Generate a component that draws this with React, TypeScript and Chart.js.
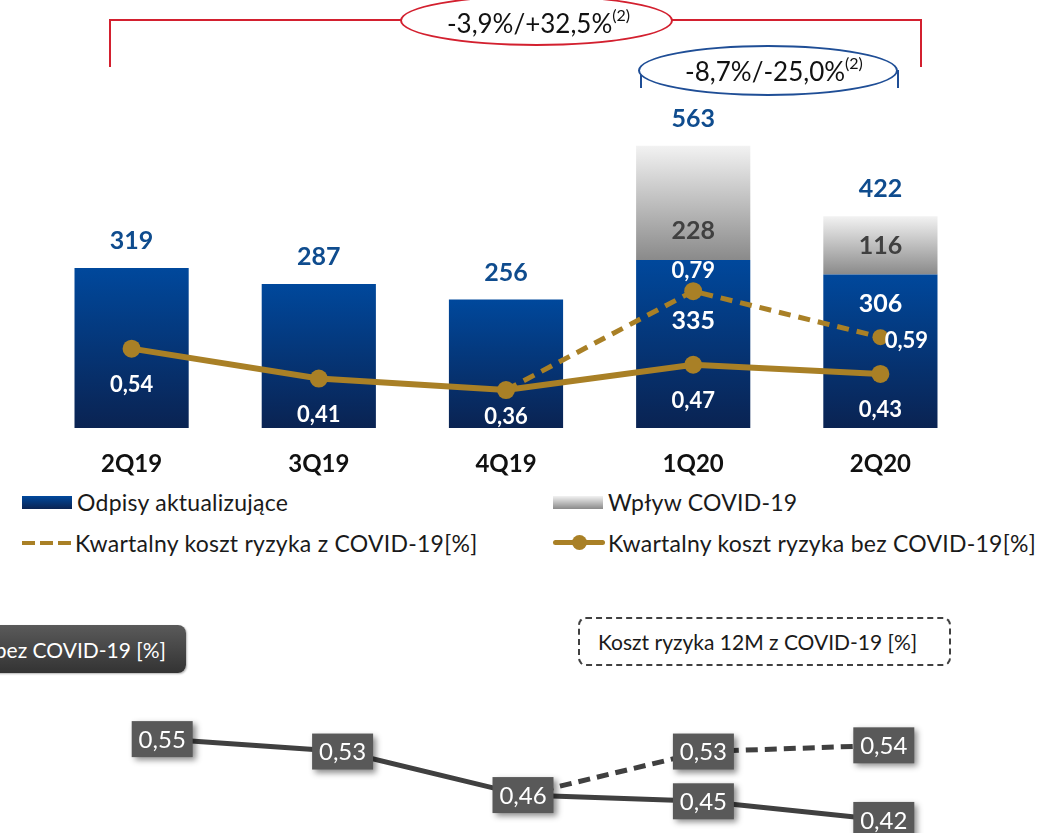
import React, { useEffect, useRef } from 'react';
import { Chart, registerables } from 'chart.js';
Chart.register(...registerables);

const categories = ['2Q19', '3Q19', '4Q19', '1Q20', '2Q20'];
const writeDowns = [319, 287, 256, 335, 306];
const covidImpact = [null, null, null, 228, 116];
const costWithCovid = [null, null, 0.36, 0.79, 0.59];
const costWithoutCovid = [0.54, 0.41, 0.36, 0.47, 0.43];
const cost12mWithout = [0.55, 0.53, 0.46, 0.45, 0.42];
const cost12mWith = [null, null, 0.46, 0.53, 0.54];

const GOLD = '#a98026';
const NAVY_TOP = '#00489c';
const NAVY_BOT = '#0a2352';
const BLUE_TXT = '#0f4c8e';
const RED = '#d3202f';
const FONT = 'Lato, "Open Sans", sans-serif';

const fmt = (v: number) => v.toFixed(2).replace('.', ',');

const topLabels = {
  id: 'topLabels',
  afterDatasetsDraw(chart: any) {
    const { ctx, scales } = chart;
    const x = scales.x, y = scales.y, y2 = scales.y2;
    ctx.save();
    ctx.textAlign = 'center';
    ctx.textBaseline = 'middle';
    categories.forEach((c, i) => {
      const px = x.getPixelForValue(i);
      const blue = writeDowns[i];
      const cov = covidImpact[i];
      const total = blue + (cov || 0);
      ctx.font = `bold 25px ${FONT}`;
      ctx.fillStyle = BLUE_TXT;
      ctx.fillText(String(total), px, y.getPixelForValue(total) - 27);
      if (cov) {
        const blueTop = y.getPixelForValue(blue);
        ctx.fillStyle = '#404040';
        ctx.fillText(String(cov), px, blueTop - 29);
        ctx.fillStyle = '#ffffff';
        ctx.fillText(String(blue), px, blueTop + (i === 3 ? 61 : 29));
      }
      ctx.font = `bold 24px ${FONT}`;
      ctx.fillStyle = '#111111';
      ctx.fillText(c, px, y.getPixelForValue(0) + 36);
      ctx.font = `bold 22px ${FONT}`;
      ctx.fillStyle = '#ffffff';
      const r = costWithoutCovid[i];
      ctx.fillText(fmt(r), px, y2.getPixelForValue(r) + (i === 2 ? 27 : 36));
      const rc = costWithCovid[i];
      if (rc != null && i > 2) {
        if (i === 3) ctx.fillText(fmt(rc), px, y2.getPixelForValue(rc) - 20);
        else ctx.fillText(fmt(rc), px + 26, y2.getPixelForValue(rc) + 4);
      }
    });
    ctx.restore();
  },
};

const boxLabels = {
  id: 'boxLabels',
  afterDatasetsDraw(chart: any) {
    const { ctx, scales } = chart;
    const x = scales.x, y = scales.y;
    ctx.save();
    const draw = (v: number, i: number) => {
      const px = x.getPixelForValue(i);
      const py = y.getPixelForValue(v);
      ctx.shadowColor = 'rgba(0,0,0,0.45)';
      ctx.shadowBlur = 6;
      ctx.shadowOffsetX = 3;
      ctx.shadowOffsetY = 3;
      ctx.fillStyle = '#595959';
      ctx.fillRect(px - 30.5, py - 18, 61, 36);
      ctx.shadowColor = 'transparent';
      ctx.fillStyle = '#ffffff';
      ctx.font = `24px ${FONT}`;
      ctx.textAlign = 'center';
      ctx.textBaseline = 'middle';
      ctx.fillText(fmt(v), px, py + 1);
    };
    cost12mWithout.forEach((v, i) => draw(v, i));
    cost12mWith.forEach((v, i) => {
      if (v != null && i > 2) draw(v, i);
    });
    ctx.restore();
  },
};

function blueGrad(c: any) {
  const { chart } = c;
  if (!chart.chartArea || c.dataIndex === undefined) return NAVY_TOP;
  const y = chart.scales.y;
  const g = chart.ctx.createLinearGradient(0, y.getPixelForValue(writeDowns[c.dataIndex]), 0, y.getPixelForValue(0));
  g.addColorStop(0, NAVY_TOP);
  g.addColorStop(1, NAVY_BOT);
  return g;
}

function grayGrad(c: any) {
  const { chart } = c;
  if (!chart.chartArea || c.dataIndex === undefined) return '#cccccc';
  const y = chart.scales.y;
  const i = c.dataIndex;
  const g = chart.ctx.createLinearGradient(0, y.getPixelForValue(writeDowns[i] + (covidImpact[i] || 0)), 0, y.getPixelForValue(writeDowns[i]));
  g.addColorStop(0, '#f2f2f2');
  g.addColorStop(1, '#8a8a8a');
  return g;
}

export default function App() {
  const topRef = useRef<HTMLCanvasElement>(null);
  const botRef = useRef<HTMLCanvasElement>(null);

  useEffect(() => {
    const c1 = new Chart(topRef.current!, {
      type: 'bar',
      data: {
        labels: categories,
        datasets: [
          {
            type: 'line', label: 'Kwartalny koszt ryzyka bez COVID-19[%]', data: costWithoutCovid, yAxisID: 'y2',
            borderColor: GOLD, backgroundColor: GOLD, borderWidth: 6, pointRadius: 9, pointBorderWidth: 0,
            pointBackgroundColor: GOLD, order: 0, tension: 0,
          } as any,
          {
            type: 'line', label: 'Kwartalny koszt ryzyka z COVID-19[%]', data: costWithCovid, yAxisID: 'y2',
            borderColor: GOLD, backgroundColor: GOLD, borderWidth: 5, borderDash: [12, 8],
            pointRadius: [0, 0, 0, 9, 8], pointBorderWidth: 0, pointBackgroundColor: GOLD, order: 1, tension: 0,
          } as any,
          {
            type: 'bar', label: 'Odpisy aktualizujące', data: writeDowns, yAxisID: 'y', stack: 's',
            backgroundColor: blueGrad, barPercentage: 0.61, categoryPercentage: 1, order: 2,
          } as any,
          {
            type: 'bar', label: 'Wpływ COVID-19', data: covidImpact, yAxisID: 'y', stack: 's',
            backgroundColor: grayGrad, barPercentage: 0.61, categoryPercentage: 1, order: 2,
          } as any,
        ],
      },
      options: {
        animation: false,
        responsive: false,
        layout: { padding: { left: 38, right: 90, top: 100, bottom: 52 } },
        plugins: { legend: { display: false }, tooltip: { enabled: false } },
        scales: {
          x: { display: false, stacked: true, offset: true },
          y: { display: false, stacked: true, min: 0, max: 654 },
          y2: { display: false, min: 0.195, max: 1.621 },
        },
      },
      plugins: [topLabels],
    });

    const c2 = new Chart(botRef.current!, {
      type: 'line',
      data: {
        labels: categories,
        datasets: [
          { label: 'Koszt ryzyka 12M bez COVID-19 [%]', data: cost12mWithout, borderColor: '#404040', borderWidth: 5, pointRadius: 0, tension: 0 },
          { label: 'Koszt ryzyka 12M z COVID-19 [%]', data: cost12mWith, borderColor: '#404040', borderWidth: 5, borderDash: [12, 7], pointRadius: 0, tension: 0 },
        ],
      },
      options: {
        animation: false,
        responsive: false,
        layout: { padding: { left: 72, right: 90, top: 0, bottom: 0 } },
        plugins: { legend: { display: false }, tooltip: { enabled: false } },
        scales: {
          x: { display: false, offset: true },
          y: { display: false, min: 0.399, max: 0.629 },
        },
      },
      plugins: [boxLabels],
    });

    return () => {
      c1.destroy();
      c2.destroy();
    };
  }, []);

  const abs = (s: React.CSSProperties): React.CSSProperties => ({ position: 'absolute', ...s });
  const legendText: React.CSSProperties = { fontFamily: FONT, fontSize: 23, letterSpacing: 0.25, color: '#1a1a1a', whiteSpace: 'nowrap', lineHeight: '26px' };

  return (
    <div style={{ position: 'absolute', left: 0, top: 0, width: 1064, height: 833, overflow: 'hidden', background: '#fff', fontFamily: FONT }}>
      <div style={abs({ left: 48, top: -27, fontSize: 24, fontWeight: 'bold', color: BLUE_TXT, lineHeight: '28px', whiteSpace: 'nowrap' })}>[mln PLN]</div>

      <canvas ref={topRef} width={1064} height={480} style={abs({ left: 0, top: 0 })} />
      <canvas ref={botRef} width={1064} height={143} style={abs({ left: 0, top: 690 })} />

      <div style={abs({ left: 109, top: 19, width: 809, height: 46, borderTop: `2.5px solid ${RED}`, borderLeft: `2.5px solid ${RED}`, borderRight: `2.5px solid ${RED}` })} />
      <div style={abs({ left: 400, top: -5, width: 273, height: 51, border: `2.5px solid ${RED}`, borderRadius: '50%', background: '#fff', display: 'flex', alignItems: 'center', justifyContent: 'center', paddingTop: 4, boxSizing: 'border-box' })}>
        <span style={{ fontSize: 26, color: '#111', whiteSpace: 'nowrap', position: 'relative', left: 2 }}>-3,9%/+32,5%<sup style={{ fontSize: 16, verticalAlign: 'top', position: 'relative', top: -2 }}>(2)</sup></span>
      </div>

      <div style={abs({ left: 640, top: 70, width: 255, height: 18, borderLeft: '2.5px solid #1f4e96', borderRight: '2.5px solid #1f4e96' })} />
      <div style={abs({ left: 638, top: 45, width: 260, height: 51, border: '2.5px solid #1f4e96', borderRadius: '50%', background: '#fff', display: 'flex', alignItems: 'center', justifyContent: 'center', boxSizing: 'border-box' })}>
        <span style={{ fontSize: 26, color: '#111', whiteSpace: 'nowrap', position: 'relative', left: 6 }}>-8,7%/-25,0%<sup style={{ fontSize: 16, verticalAlign: 'top', position: 'relative', top: -2 }}>(2)</sup></span>
      </div>

      <div style={abs({ left: 22, top: 496, width: 50, height: 13, background: `linear-gradient(${NAVY_TOP}, ${NAVY_BOT})` })} />
      <div style={abs({ left: 77, top: 489, ...legendText })}>Odpisy aktualizujące</div>
      <div style={abs({ left: 553, top: 496, width: 50, height: 13, background: 'linear-gradient(#f2f2f2, #8a8a8a)' })} />
      <div style={abs({ left: 608, top: 489, ...legendText })}>Wpływ COVID-19</div>

      <div style={abs({ left: 22, top: 541, width: 50, height: 4, background: `repeating-linear-gradient(90deg, ${GOLD} 0 13px, transparent 13px 18px)` })} />
      <div style={abs({ left: 75, top: 530, ...legendText })}>Kwartalny koszt ryzyka z COVID-19[%]</div>
      <div style={abs({ left: 553, top: 540, width: 52, height: 5, borderRadius: 3, background: GOLD })} />
      <div style={abs({ left: 572, top: 535, width: 15, height: 15, borderRadius: '50%', background: GOLD })} />
      <div style={abs({ left: 608, top: 530, ...legendText })}>Kwartalny koszt ryzyka bez COVID-19[%]</div>

      <div style={abs({ left: -200, top: 625, width: 386, height: 48, borderRadius: 8, background: 'linear-gradient(#5a5a5a, #333333)', boxShadow: '1px 1px 2px rgba(0,0,0,0.3)', color: '#fff', fontSize: 21, display: 'flex', alignItems: 'center', justifyContent: 'flex-end', paddingRight: 20, boxSizing: 'border-box', whiteSpace: 'nowrap' })}>Koszt ryzyka 12M bez COVID-19 [%]</div>
      <div style={abs({ left: 578, top: 617, width: 373, height: 49, borderRadius: 8, border: '2px dashed #404040', color: '#1a1a1a', fontSize: 21, display: 'flex', alignItems: 'center', paddingLeft: 18, boxSizing: 'border-box', whiteSpace: 'nowrap' })}>Koszt ryzyka 12M z COVID-19 [%]</div>
    </div>
  );
}
